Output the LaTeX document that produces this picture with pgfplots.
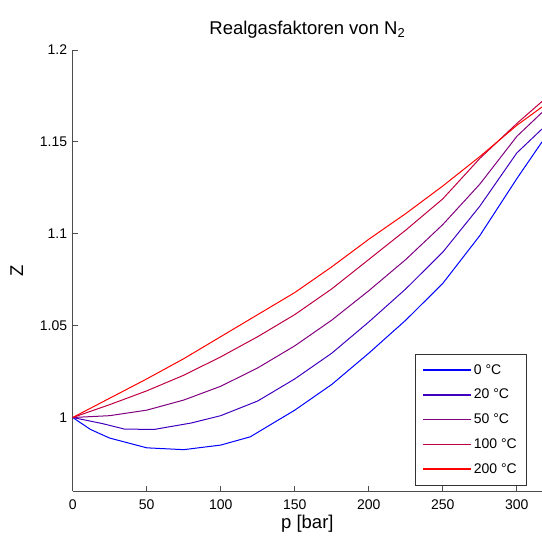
\documentclass[border=0pt]{standalone}
\usepackage{fontspec}
\setmainfont{Liberation Sans}
\usepackage{pgfplots}
\pgfplotsset{compat=1.18}

\definecolor{c0}{rgb}{0,0,1}
\definecolor{c20}{rgb}{0.25,0,0.75}
\definecolor{c50}{rgb}{0.5,0,0.5}
\definecolor{c100}{rgb}{0.75,0,0.25}
\definecolor{c200}{rgb}{1,0,0}
\definecolor{axgray}{gray}{0.3}

\begin{document}
\begin{tikzpicture}
\begin{axis}[
    name=ax,
    scale only axis,
    width=469.3pt,
    height=441pt,
    xmin=0, xmax=317,
    ymin=0.96, ymax=1.2,
    axis x line*=bottom,
    axis y line*=left,
    axis line style={axgray, line width=0.8pt, -},
    tick style={axgray, line width=0.8pt},
    tick align=inside,
    major tick length=5pt,
    xtick={0,50,100,150,200,250,300},
    ytick={1,1.05,1.1,1.15,1.2},
    yticklabels={1,1.05,1.1,1.15,1.2},
    ticklabel style={font=\fontsize{14}{16}\selectfont},
    xticklabel style={yshift=-5pt},
    yticklabel style={xshift=-2pt},
    /pgf/number format/assume math mode=true,
    title={Realgasfaktoren von N\textsubscript{2}},
    title style={font=\fontsize{18.5}{20}\selectfont, yshift=2pt},
    xlabel={p [bar]},
    ylabel={Z},
    label style={font=\fontsize{18.5}{20}\selectfont},
    xlabel style={yshift=1pt},
    ylabel style={yshift=10pt},
    legend cell align=left,
    legend style={
        name=leg,
        at={(0.966,0.0136)}, anchor=south east,
        draw=none, fill=none,
        font=\fontsize{14}{16}\selectfont,
        row sep=9.5pt, inner xsep=7pt, inner ysep=8pt,
    },
    legend image code/.code={\draw[#1, line width=1.6pt] (0pt,0pt) -- (48pt,0pt);},
    every axis plot/.append style={line width=1pt},
]
\addplot[c0] coordinates {
    (0,1.000) (12,0.9935) (25,0.9888) (50,0.9835) (75,0.9825) (100,0.9850)
    (120,0.9895) (150,1.004) (175,1.018) (200,1.035) (225,1.053) (250,1.073)
    (275,1.099) (300,1.130) (317,1.150)
};
\addlegendentry{0 °C}
\addplot[c20] coordinates {
    (0,1.000) (20,0.9967) (35,0.9937) (55,0.9935) (80,0.997) (100,1.001)
    (125,1.009) (150,1.021) (175,1.035) (200,1.052) (225,1.070) (250,1.090)
    (275,1.115) (300,1.144) (317,1.157)
};
\addlegendentry{20 °C}
\addplot[c50] coordinates {
    (0,1.000) (25,1.001) (50,1.004) (75,1.0095) (100,1.017) (125,1.027)
    (150,1.039) (175,1.053) (200,1.069) (225,1.086) (250,1.105) (275,1.127)
    (300,1.153) (317,1.166)
};
\addlegendentry{50 °C}
\addplot[c100] coordinates {
    (0,1.000) (25,1.007) (50,1.0145) (75,1.023) (100,1.033) (125,1.044)
    (150,1.056) (175,1.070) (200,1.086) (225,1.102) (250,1.119) (275,1.141)
    (300,1.160) (317,1.172)
};
\addlegendentry{100 °C}
\addplot[c200] coordinates {
    (0,1.000) (25,1.0105) (50,1.021) (75,1.032) (100,1.044) (125,1.056)
    (150,1.068) (175,1.082) (200,1.097) (225,1.111) (250,1.126) (275,1.142)
    (300,1.159) (317,1.169)
};
\addlegendentry{200 °C}
\end{axis}
\draw[black!80, line width=0.6pt] (leg.south west) rectangle (leg.north east);
\pgfresetboundingbox
\path[use as bounding box] ([xshift=-72.7pt,yshift=-50pt]ax.south west) rectangle ([yshift=50pt]ax.north east);
\end{tikzpicture}
\end{document}
